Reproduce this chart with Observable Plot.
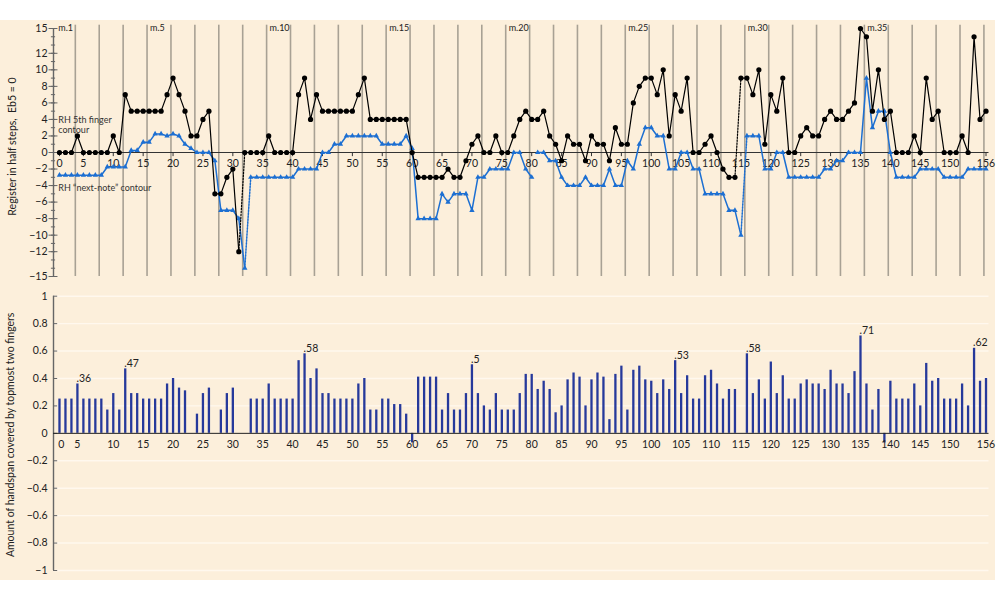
<!DOCTYPE html>
<html><head><meta charset="utf-8">
<script src="https://cdn.jsdelivr.net/npm/d3@7"></script>
<script src="https://cdn.jsdelivr.net/npm/@observablehq/plot@0.6"></script>
<style>
html,body{margin:0;padding:0;background:#fff;}
#wrap{position:relative;width:1000px;height:600px;overflow:hidden;background:#fff;}
#bg{position:absolute;left:0;top:20px;width:995px;height:560px;background:#fcefdb;}
#top{position:absolute;left:0;top:0;}
#bot{position:absolute;left:0;top:285px;}
svg{overflow:visible;}
</style>
</head><body>
<div id="wrap"><div id="bg"></div><div id="top"></div><div id="bot"></div></div>
<script>
// ---- data ----
// RH 5th finger contour (half steps, Eb5 = 0), one value per note event 1..156
const fifthFinger = [
 0,0,0,2,0,0,0,0,0,2,
 0,7,5,5,5,5,5,5,7,9,
 7,5,2,2,4,5,-5,-5,-3,-2,
 -12,0,0,0,0,2,0,0,0,0,
 7,9,4,7,5,5,5,5,5,5,
 7,9,4,4,4,4,4,4,4,0,
 -3,-3,-3,-3,-3,-2,-3,-3,-1,1,
 2,0,0,2,0,0,2,4,5,4,
 4,5,2,1,-1,2,1,1,-1,2,
 1,1,-1,3,1,1,6,8,9,9,
 7,10,2,7,5,9,0,0,1,2,
 0,-2,-3,-3,9,9,7,10,1,7,
 5,9,0,0,2,3,2,2,4,5,
 4,4,5,6,15,14,5,10,4,5,
 0,0,0,2,0,9,4,5,0,0,
 0,2,0,14,4,5];
// RH "next-note" contour
const nextNote = [
 -2.75,-2.75,-2.75,-2.75,-2.75,-2.75,-2.75,-2.75,-1.75,-1.75,
 -1.75,-1.75,0.25,0.25,1.25,1.25,2.25,2.25,2,2.25,
 2,1,0.5,0,0,0,-1,-7,-7,-7,
 -8,-14,-3,-3,-3,-3,-3,-3,-3,-3,
 -2,-2,-2,-2,0,0,1,1,2,2,
 2,2,2,2,1,1,1,1,2,0.5,
 -8,-8,-8,-8,-5,-6,-5,-5,-5,-7,
 -3,-3,-2,-2,-2,-2,0,0,-2,-3,
 0,0,-1,-1,-3,-4,-4,-4,-3,-4,
 -4,-4,-2,-4,-4,-1,-2,1,3,3,
 2,2,-2,-2,0,0,-2,-2,-5,-5,
 -5,-5,-7,-7,-10,2,2,2,-2,-2,
 0,0,-3,-3,-3,-3,-3,-3,-2,-2,
 -1,-1,0,0,0,9,3,5,5,0,
 -3,-3,-3,-3,-2,-2,-2,-2,-3,-3,
 -3,-3,-2,-2,-2,-2];
// Amount of handspan covered by topmost two fingers
const handspan = [
 .25,.25,.25,.36,.25,.25,.25,.25,.17,.29,
 .17,.47,.29,.29,.25,.25,.25,.25,.36,.40,
 .33,.31,0,.14,.29,.33,0,.17,.29,.33,
 0,0,.25,.25,.25,.36,.25,.25,.25,.25,
 .53,.58,.40,.47,.29,.29,.25,.25,.25,.25,
 .36,.40,.17,.17,.25,.25,.21,.21,.14,-.07,
 .41,.41,.41,.41,.17,.29,.17,.17,.29,.50,
 .29,.20,.17,.29,.17,.17,.17,.29,.43,.43,
 .32,.38,.32,.15,.20,.39,.44,.41,.20,.39,
 .44,.41,.10,.43,.49,.17,.46,.49,.39,.38,
 .29,.39,.32,.53,.29,.42,.25,.25,.42,.46,
 .36,.25,.32,.32,0,.58,.29,.39,.25,.52,
 .29,.42,.25,.25,.36,.39,.36,.36,.32,.46,
 .36,.36,.29,.45,.71,.36,.17,.32,-.07,.38,
 .25,.25,.25,.36,.20,.51,.38,.40,.25,.25,
 .25,.36,.20,.62,.38,.40];
const labeledBars = [3, 11, 41, 69, 103, 115, 134, 153];   // indices of annotated bars
const fifthDotted = [30, 113];     // segment i -> i+1 drawn dotted
const nextDotted = [31, 114];
const nextGaps = [79];             // no line between i and i+1
const xTickLabels = [0,5,10,15,20,25,30,35,40,45,50,55,60,65,70,75,80,85,90,95,100,105,110,115,120,125,130,135,140,145,150,156];
const measureLines = d3.range(2, 41);
const measureLabels = [1,5,10,15,20,25,30,35];
const topYTicks = [15,12,10,8,6,4,2,0,-2,-4,-6,-8,-10,-12,-15];
const topMinor = d3.range(-15, 16);
const botYTicks = [1,0.8,0.6,0.4,0.2,0,-0.2,-0.4,-0.6,-0.8,-1];

// ---- helpers ----
const FONT = "Lato, 'Open Sans', sans-serif";
const INK = "#222";
const BLUE = "#1c6fd2";
const XDOM = [0, 156.5];
const measureX = m => 4 * (m - 1) - 0.35;
function series(vals, dotted, gaps) {
  const solid = [], dots = [];
  let seg = 0;
  vals.forEach((v, i) => {
    if (i > 0 && (dotted.includes(i - 1) || gaps.includes(i - 1))) seg++;
    solid.push({x: i + 1, y: v, seg});
  });
  dotted.forEach((i, k) => {
    dots.push({x: i + 1, y: vals[i], seg: k}, {x: i + 2, y: vals[i + 1], seg: k});
  });
  return {solid, dots};
}
const fmtNum = d => String(+d.toFixed(1)).replace("-", "\u2212");
const S5 = series(fifthFinger, fifthDotted, []);
const SN = series(nextNote, nextDotted, nextGaps);

// ---- top panel ----
const topPlot = Plot.plot({
  width: 1000, height: 290,
  marginLeft: 53, marginRight: 11.5, marginTop: 28, marginBottom: 14,
  x: {domain: XDOM, axis: null},
  y: {domain: [-15, 15], axis: null},
  style: {background: "transparent", fontFamily: FONT, color: INK, overflow: "visible"},
  marks: [
    Plot.ruleX(measureLines, {x: measureX, y1: -15, y2: 15.4, stroke: "#a8a194", strokeWidth: 1.6}),
    Plot.ruleY([0], {x1: 0, x2: XDOM[1], stroke: "#333", strokeWidth: 1}),
    Plot.ruleX([0], {y1: -15, y2: 15, stroke: "#666", strokeWidth: 1.4}),
    Plot.ruleY(topMinor, {x1: -0.35, x2: 0.35, stroke: "#666", strokeWidth: 1}),
    Plot.ruleY(topYTicks, {x1: -0.75, x2: 0.75, stroke: "#666", strokeWidth: 1}),
    Plot.text(topYTicks, {x: 0, y: d => d, text: fmtNum, dx: -6, textAnchor: "end", fontSize: 10.5, fill: INK}),
    Plot.ruleX(xTickLabels, {x: d => d === 0 ? 1 : d, y1: -0.5, y2: 0, stroke: "#333"}),
    Plot.text(xTickLabels, {x: d => d === 0 ? 1 : d, y: 0, text: d => String(d), dy: 11, fontSize: 10.5, fill: INK}),
    Plot.text(measureLabels, {x: m => Math.max(0.3, measureX(m)), y: 15.1, text: m => "m." + m, dx: 3, textAnchor: "start", fontSize: 9, fill: INK}),
    Plot.text(["RH 5th finger\ncontour"], {x: 0.8, y: 4.35, text: d => d, textAnchor: "start", lineAnchor: "top", lineHeight: 1.05, fontSize: 9, fill: "#333"}),
    Plot.text(["RH \u201cnext-note\u201d contour"], {x: 0.8, y: -4.25, text: d => d, textAnchor: "start", fontSize: 9, fill: "#333"}),
    Plot.line(SN.solid, {x: "x", y: "y", z: "seg", stroke: BLUE, strokeWidth: 1.5}),
    Plot.line(SN.dots, {x: "x", y: "y", z: "seg", stroke: BLUE, strokeWidth: 1.5, strokeDasharray: "1.5,1.5"}),
    Plot.dot(SN.solid, {x: "x", y: "y", symbol: "triangle", r: 2, fill: BLUE, stroke: "none"}),
    Plot.line(S5.solid, {x: "x", y: "y", z: "seg", stroke: "#000", strokeWidth: 1.2}),
    Plot.line(S5.dots, {x: "x", y: "y", z: "seg", stroke: "#000", strokeWidth: 1.2, strokeDasharray: "1.5,1.5"}),
    Plot.dot(S5.solid, {x: "x", y: "y", r: 2.6, fill: "#000", stroke: "none"}),
    Plot.text(["Register in half steps,  Eb5 = 0"], {frameAnchor: "left", text: d => d, rotate: -90, textAnchor: "middle", dx: -41, dy: -6, fontSize: 10.5, fill: INK})
  ]
});
document.getElementById("top").appendChild(topPlot);

// ---- bottom panel ----
const bars = handspan.map((v, i) => ({x: i + 1, v}));
const barLabel = v => d3.format(".2f")(v).replace(/^0/, "").replace(/0$/, "");
const botPlot = Plot.plot({
  width: 1000, height: 300,
  marginLeft: 53, marginRight: 11.5, marginTop: 10.7, marginBottom: 15,
  x: {domain: XDOM, axis: null},
  y: {domain: [-1, 1], axis: null},
  style: {background: "transparent", fontFamily: FONT, color: INK, overflow: "visible"},
  marks: [
    Plot.ruleY(botYTicks.filter(d => d !== 0), {x1: 0, x2: XDOM[1], stroke: "#fff8ee", strokeWidth: 1.4}),
    Plot.ruleX([0], {y1: -1, y2: 1, stroke: "#666", strokeWidth: 1.4}),
    Plot.ruleY(botYTicks, {x1: 0, x2: 0.7, stroke: "#666", strokeWidth: 1}),
    Plot.text(botYTicks, {x: 0, y: d => d, text: fmtNum, dx: -6, textAnchor: "end", fontSize: 10.5, fill: INK}),
    Plot.ruleX(bars, {x: "x", y1: 0, y2: "v", stroke: "#26399b", strokeWidth: 2.3}),
    Plot.ruleY([0], {x1: 0, x2: XDOM[1], stroke: "#222", strokeWidth: 1}),
    Plot.text(xTickLabels, {x: d => d === 0 ? 1.3 : d === 5 ? 4 : d, y: 0, text: d => String(d), dy: 11, fontSize: 10.5, fill: INK}),
    Plot.text(labeledBars, {x: i => i + 1, y: i => handspan[i], text: i => barLabel(handspan[i]), dx: -1, dy: -2, textAnchor: "start", lineAnchor: "bottom", fontSize: 10.5, fill: INK}),
    Plot.text(["Amount of handspan covered by topmost two fingers"], {frameAnchor: "left", text: d => d, rotate: -90, textAnchor: "middle", dx: -43, dy: 1.5, fontSize: 10.5, fill: INK})
  ]
});
document.getElementById("bot").appendChild(botPlot);
</script>
</body></html>
